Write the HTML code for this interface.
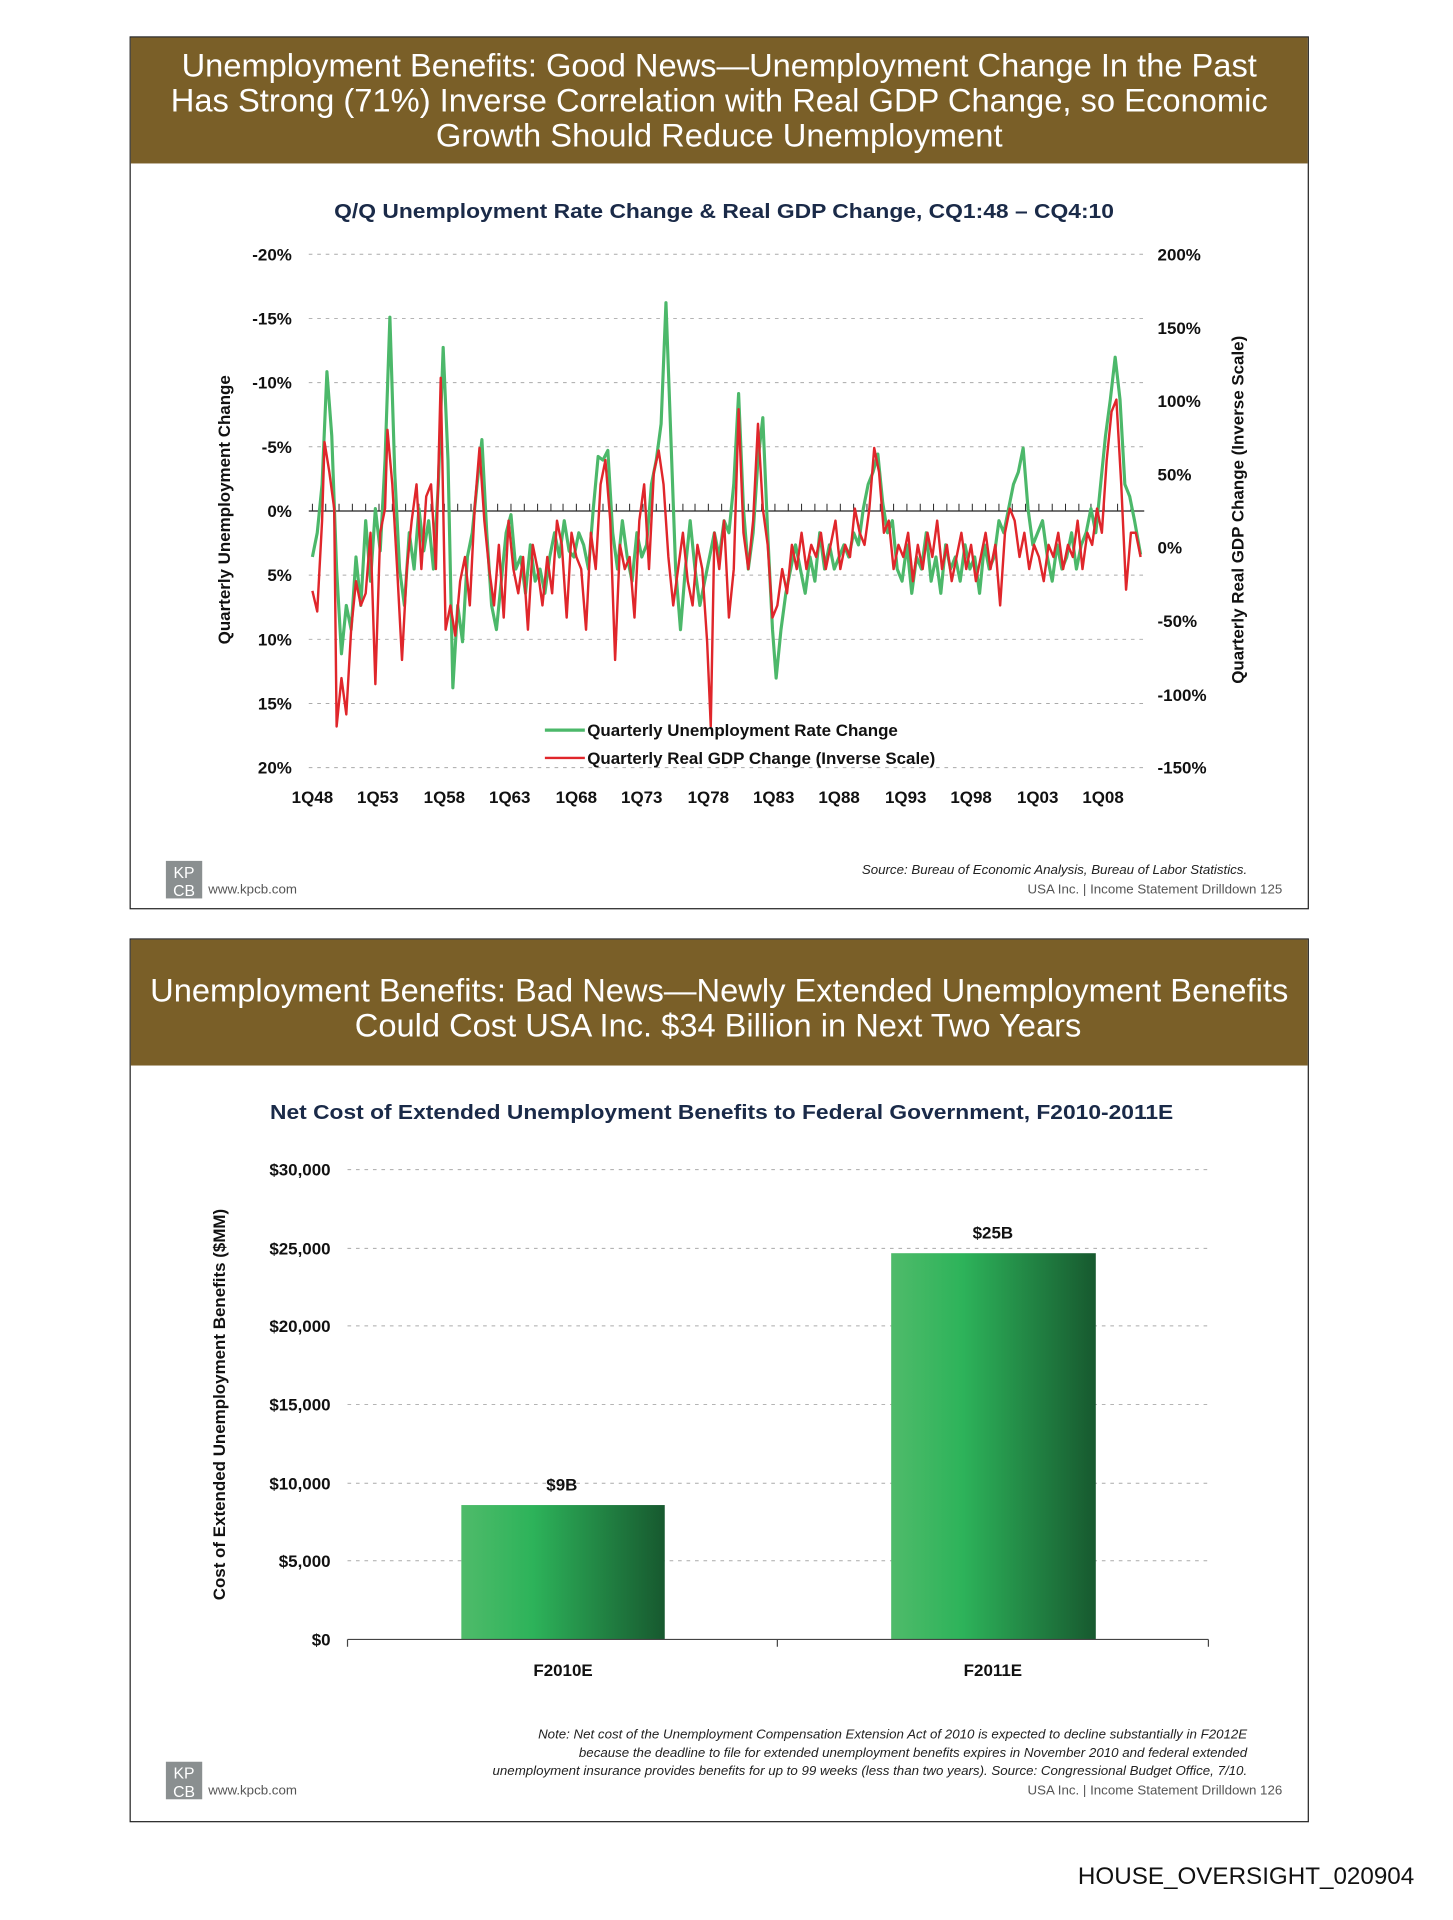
<!DOCTYPE html>
<html><head><meta charset="utf-8"><style>html,body{margin:0;padding:0;background:#fff}svg{display:block}</style></head>
<body>
<svg width="1453" height="1920" viewBox="0 0 1200 1585.7" xmlns="http://www.w3.org/2000/svg" font-family="Liberation Sans, Arial, sans-serif">
<defs>
<linearGradient id="bg" x1="0" x2="1" y1="0" y2="0"><stop offset="0" stop-color="#4fbb6a"/><stop offset="0.35" stop-color="#2db35a"/><stop offset="1" stop-color="#17592f"/></linearGradient>
</defs>
<!-- Slide 1 -->
<rect x="107.5" y="30.5" width="973" height="720" fill="#fff" stroke="#222" stroke-width="1"/>
<rect x="108" y="31" width="972" height="104" fill="#7a5f28"/>
<g fill="#fff" font-size="27" text-anchor="middle">
<text x="594" y="63" textLength="888" lengthAdjust="spacingAndGlyphs">Unemployment Benefits: Good News—Unemployment Change In the Past</text>
<text x="594" y="92" textLength="906" lengthAdjust="spacingAndGlyphs">Has Strong (71%) Inverse Correlation with Real GDP Change, so Economic</text>
<text x="594" y="121" textLength="468" lengthAdjust="spacingAndGlyphs">Growth Should Reduce Unemployment</text>
</g>
<text x="598" y="180" text-anchor="middle" font-size="17" font-weight="bold" fill="#1a2a48" textLength="644" lengthAdjust="spacingAndGlyphs">Q/Q Unemployment Rate Change &amp; Real GDP Change, CQ1:48 – CQ4:10</text>
<g stroke="#aaa" stroke-dasharray="3,4" stroke-width="0.8">
<line x1="255" x2="945" y1="210" y2="210"/><line x1="255" x2="945" y1="263" y2="263"/><line x1="255" x2="945" y1="316" y2="316"/><line x1="255" x2="945" y1="369" y2="369"/><line x1="255" x2="945" y1="475" y2="475"/><line x1="255" x2="945" y1="528" y2="528"/><line x1="255" x2="945" y1="581" y2="581"/><line x1="255" x2="945" y1="634" y2="634"/>
</g>
<line x1="255" x2="945" y1="422" y2="422" stroke="#222" stroke-width="1"/>
<path stroke="#222" stroke-width="0.8" d="M258 416v6M269 416v6M280 416v6M291 416v6M302 416v6M313 416v6M324 416v6M335 416v6M346 416v6M356 416v6M367 416v6M378 416v6M389 416v6M400 416v6M411 416v6M422 416v6M433 416v6M444 416v6M455 416v6M465 416v6M476 416v6M487 416v6M498 416v6M509 416v6M520 416v6M531 416v6M542 416v6M553 416v6M564 416v6M574 416v6M585 416v6M596 416v6M607 416v6M618 416v6M629 416v6M640 416v6M651 416v6M662 416v6M673 416v6M683 416v6M694 416v6M705 416v6M716 416v6M727 416v6M738 416v6M749 416v6M760 416v6M771 416v6M782 416v6M792 416v6M803 416v6M814 416v6M825 416v6M836 416v6M847 416v6M858 416v6M869 416v6M880 416v6M891 416v6M901 416v6M912 416v6M923 416v6M934 416v6"/>
<g font-size="14" font-weight="bold" fill="#111" text-anchor="end">
<text x="241" y="215">-20%</text><text x="241" y="268">-15%</text><text x="241" y="321">-10%</text><text x="241" y="374">-5%</text><text x="241" y="427">0%</text><text x="241" y="480">5%</text><text x="241" y="533">10%</text><text x="241" y="586">15%</text><text x="241" y="639">20%</text>
</g>
<g font-size="14" font-weight="bold" fill="#111">
<text x="956" y="215">200%</text><text x="956" y="276">150%</text><text x="956" y="336">100%</text><text x="956" y="397">50%</text><text x="956" y="457">0%</text><text x="956" y="518">-50%</text><text x="956" y="579">-100%</text><text x="956" y="639">-150%</text>
</g>
<g font-size="14" font-weight="bold" fill="#111" text-anchor="middle">
<text x="258" y="663">1Q48</text><text x="312" y="663">1Q53</text><text x="367" y="663">1Q58</text><text x="421" y="663">1Q63</text><text x="476" y="663">1Q68</text><text x="530" y="663">1Q73</text><text x="585" y="663">1Q78</text><text x="639" y="663">1Q83</text><text x="693" y="663">1Q88</text><text x="748" y="663">1Q93</text><text x="802" y="663">1Q98</text><text x="857" y="663">1Q03</text><text x="911" y="663">1Q08</text>
</g>
<text transform="translate(190,421) rotate(-90)" text-anchor="middle" font-size="14" font-weight="bold" fill="#111">Quarterly Unemployment Change</text>
<text transform="translate(1027,421) rotate(-90)" text-anchor="middle" font-size="14" font-weight="bold" fill="#111">Quarterly Real GDP Change (Inverse Scale)</text>
<polyline fill="none" stroke="#4cb86a" stroke-width="2.6" stroke-linejoin="round" points="258,460 262,440 266,400 270,307 274,360 278,470 282,540 286,500 290,520 294,460 298,500 302,430 306,480 310,420 314,455 318,380 322,262 326,390 330,470 334,500 338,440 342,470 346,420 350,455 354,430 358,470 362,400 366,287 370,380 374,568 378,500 382,530 386,460 390,440 394,400 398,363 402,440 406,500 410,520 414,480 418,440 422,425 426,470 430,460 434,490 438,450 442,480 446,470 450,490 454,460 458,440 462,460 466,430 470,455 474,460 478,440 482,450 486,470 490,420 494,377 498,380 502,372 506,440 510,470 514,430 518,460 522,480 526,440 530,460 534,450 538,400 542,380 546,350 550,250 554,360 558,470 562,520 566,470 570,430 574,470 578,500 582,480 586,460 590,440 594,460 598,430 602,440 606,400 610,325 614,420 618,470 622,440 626,380 630,345 634,440 638,520 641,560 645,520 649,490 653,470 657,450 661,470 665,490 669,460 673,480 677,440 681,470 685,450 689,470 693,460 697,450 701,460 705,440 709,450 713,420 717,400 721,390 725,375 729,415 733,440 737,430 741,470 745,480 749,450 753,490 757,460 761,470 765,440 769,480 773,460 777,490 781,450 785,470 789,460 793,480 797,450 801,470 805,460 809,490 813,450 817,470 821,460 825,430 829,440 833,420 837,400 841,390 845,370 849,420 853,450 857,440 861,430 865,460 869,480 873,450 877,470 881,460 885,440 889,470 893,450 897,440 901,420 905,440 909,400 913,360 917,330 921,295 925,330 929,400 933,410 937,430 942,458"/>
<polyline fill="none" stroke="#e0262b" stroke-width="2" stroke-linejoin="round" points="258,488 262,505 266,430 268,365 272,390 276,420 278,600 282,560 286,590 290,520 294,480 298,500 302,490 306,440 310,565 314,440 318,420 320,355 324,400 328,470 332,545 336,470 340,430 344,400 348,470 352,410 356,400 360,470 364,312 368,520 372,500 376,525 380,480 384,460 388,500 392,420 396,370 400,430 404,470 408,500 412,450 416,510 420,430 424,470 428,490 432,460 436,520 440,450 444,470 448,500 452,460 456,490 460,430 464,450 468,510 472,440 476,460 480,470 484,520 488,440 492,470 496,400 500,380 504,430 508,545 512,450 516,470 520,460 524,510 528,430 532,400 536,470 540,390 544,372 548,400 552,460 556,500 560,470 564,440 568,480 572,500 576,450 580,470 584,530 587,600 590,440 594,470 598,430 602,510 606,470 610,338 614,440 618,470 622,430 626,350 630,420 634,450 638,510 642,500 646,470 650,490 654,450 658,470 662,440 666,470 670,450 674,460 678,440 682,470 686,450 690,430 694,470 698,450 702,460 706,420 710,440 714,450 718,420 722,370 726,390 730,440 734,430 738,470 742,450 746,460 750,440 754,480 758,450 762,470 766,440 770,460 774,430 778,470 782,450 786,480 790,460 794,440 798,470 802,450 806,480 810,460 814,440 818,470 822,450 826,500 830,440 834,420 838,430 842,460 846,440 850,470 854,450 858,460 862,480 866,450 870,460 874,440 878,470 882,450 886,460 890,430 894,470 898,440 902,450 906,420 910,440 914,380 918,340 922,330 926,400 930,487 934,440 938,440 942,460"/>
<line x1="450" x2="483" y1="603" y2="603" stroke="#4cb86a" stroke-width="2.6"/>
<line x1="450" x2="483" y1="626" y2="626" stroke="#e0262b" stroke-width="2"/>
<text x="485" y="608" font-size="14" font-weight="bold" fill="#111">Quarterly Unemployment Rate Change</text>
<text x="485" y="631" font-size="14" font-weight="bold" fill="#111">Quarterly Real GDP Change (Inverse Scale)</text>
<!-- footer 1 -->
<rect x="137" y="711" width="30" height="31" fill="#8a8f90"/>
<text x="152" y="725" text-anchor="middle" font-size="13" fill="#fff">KP</text><text x="152" y="740" text-anchor="middle" font-size="13" fill="#fff">CB</text>
<text x="172" y="738" font-size="11" fill="#555">www.kpcb.com</text>
<text x="1030" y="722" text-anchor="end" font-size="11" font-style="italic" fill="#222">Source: Bureau of Economic Analysis, Bureau of Labor Statistics.</text>
<text x="1059" y="738" text-anchor="end" font-size="11" fill="#555">USA Inc. | Income Statement Drilldown    125</text>

<!-- Slide 2 -->
<rect x="107.5" y="775.5" width="973" height="729" fill="#fff" stroke="#222" stroke-width="1"/>
<rect x="108" y="776" width="972" height="104" fill="#7a5f28"/>
<g fill="#fff" font-size="27" text-anchor="middle">
<text x="594" y="827" textLength="940" lengthAdjust="spacingAndGlyphs">Unemployment Benefits: Bad News—Newly Extended Unemployment Benefits</text>
<text x="593" y="856" textLength="600" lengthAdjust="spacingAndGlyphs">Could Cost USA Inc. $34 Billion in Next Two Years</text>
</g>
<text x="596" y="924" text-anchor="middle" font-size="17" font-weight="bold" fill="#1a2a48" textLength="746" lengthAdjust="spacingAndGlyphs">Net Cost of Extended Unemployment Benefits to Federal Government, F2010-2011E</text>
<g stroke="#aaa" stroke-dasharray="3,4" stroke-width="0.8">
<line x1="287" x2="998" y1="966" y2="966"/><line x1="287" x2="998" y1="1031" y2="1031"/><line x1="287" x2="998" y1="1095" y2="1095"/><line x1="287" x2="998" y1="1160" y2="1160"/><line x1="287" x2="998" y1="1225" y2="1225"/><line x1="287" x2="998" y1="1289" y2="1289"/>
</g>
<rect x="381" y="1243" width="168" height="111" fill="url(#bg)"/>
<rect x="736" y="1035" width="169" height="319" fill="url(#bg)"/>
<path d="M287 1354H998M287 1354v6M642 1354v6M998 1354v6" stroke="#444" stroke-width="1" fill="none"/>
<g font-size="14" font-weight="bold" fill="#111" text-anchor="end">
<text x="273" y="971">$30,000</text><text x="273" y="1036">$25,000</text><text x="273" y="1100">$20,000</text><text x="273" y="1165">$15,000</text><text x="273" y="1230">$10,000</text><text x="273" y="1294">$5,000</text><text x="273" y="1359">$0</text>
</g>
<g font-size="14" font-weight="bold" fill="#111" text-anchor="middle">
<text x="464" y="1231">$9B</text><text x="820" y="1023">$25B</text>
<text x="465" y="1384">F2010E</text><text x="820" y="1384">F2011E</text>
</g>
<text transform="translate(186,1160) rotate(-90)" text-anchor="middle" font-size="14" font-weight="bold" fill="#111">Cost of Extended Unemployment Benefits ($MM)</text>
<g font-size="11" font-style="italic" fill="#222" text-anchor="end">
<text x="1030" y="1436">Note: Net cost of the Unemployment Compensation Extension Act of 2010 is expected to decline substantially in F2012E</text>
<text x="1030" y="1451">because the deadline to file for extended unemployment benefits expires in November 2010 and federal extended</text>
<text x="1030" y="1466">unemployment insurance provides benefits for up to 99 weeks (less than two years). Source: Congressional Budget Office, 7/10.</text>
</g>
<rect x="137" y="1455" width="30" height="31" fill="#8a8f90"/>
<text x="152" y="1469" text-anchor="middle" font-size="13" fill="#fff">KP</text><text x="152" y="1484" text-anchor="middle" font-size="13" fill="#fff">CB</text>
<text x="172" y="1482" font-size="11" fill="#555">www.kpcb.com</text>
<text x="1059" y="1482" text-anchor="end" font-size="11" fill="#555">USA Inc. | Income Statement Drilldown    126</text>

<text x="1168" y="1556" text-anchor="end" font-size="20" fill="#111">HOUSE_OVERSIGHT_020904</text>
</svg>
</body></html>
